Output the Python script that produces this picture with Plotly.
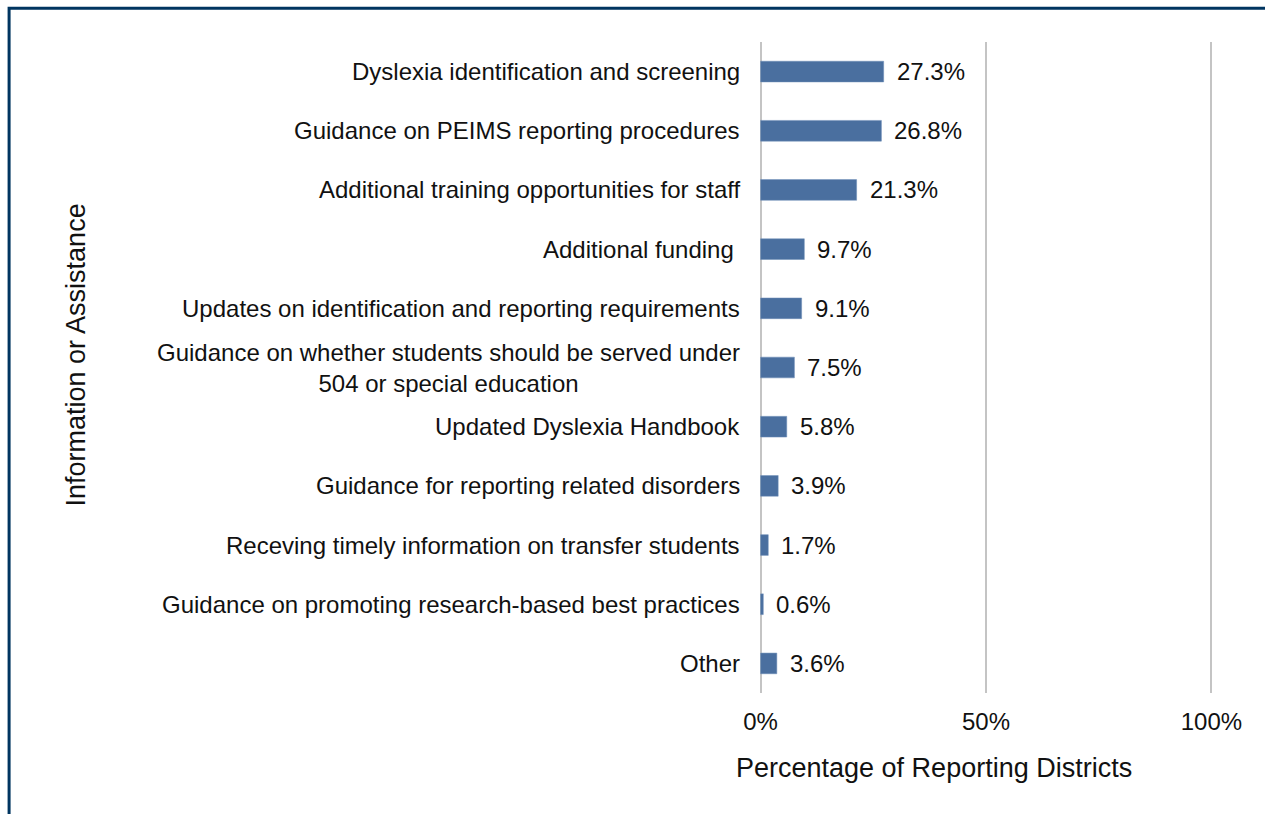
import plotly.graph_objects as go

# categories listed top to bottom, as in the chart
categories = [
    "Dyslexia identification and screening",
    "Guidance on PEIMS reporting procedures",
    "Additional training opportunities for staff",
    "Additional funding\u00a0",
    "Updates on identification and reporting requirements",
    "Guidance on whether students should be served under<br>504 or special education",
    "Updated Dyslexia Handbook",
    "Guidance for reporting related disorders",
    "Receving timely information on transfer students",
    "Guidance on promoting research-based best practices",
    "Other",
]
values = [27.3, 26.8, 21.3, 9.7, 9.1, 7.5, 5.8, 3.9, 1.7, 0.6, 3.6]
tick_vals = [0, 0.5, 1.0]
tick_text = ["0%", "50%", "100%"]

font = "Liberation Sans, Arial, sans-serif"
bar_color = "#4a6f9f"
grid_color = "#c4c4c4"
txt_color = "#111111"

shares = [v / 100 for v in values]
y_keys = list(range(len(categories)))

fig = go.Figure()
fig.add_trace(go.Bar(
    x=shares,
    y=y_keys,
    orientation="h",
    width=0.35,
    marker=dict(color=bar_color, line=dict(color="#6f8fb8", width=0.5)),
    hoverinfo="skip",
))

# category labels (centred for the two-line one)
for k, name in zip(y_keys, categories):
    fig.add_annotation(
        x=0, y=k, xref="x", yref="y",
        text=name, showarrow=False,
        xanchor="right", yanchor="middle", align="center",
        xshift=-19,
        font=dict(family=font, size=24, color=txt_color),
    )

# data labels
for k, s, v in zip(y_keys, shares, values):
    fig.add_annotation(
        x=s, y=k, xref="x", yref="y",
        text=f"{v:.1f}%", showarrow=False,
        xanchor="left", yanchor="middle",
        xshift=11,
        font=dict(family=font, size=24, color=txt_color),
    )

# axis titles
fig.add_annotation(
    x=0, y=0, xref="paper", yref="paper",
    text="Percentage of Reporting Districts", showarrow=False,
    xanchor="left", yanchor="middle", xshift=-23, yshift=-75,
    font=dict(family=font, size=27, color=txt_color),
)
fig.add_annotation(
    x=0, y=0.5, xref="paper", yref="paper",
    text="Information or Assistance", showarrow=False,
    textangle=-90, xanchor="center", yanchor="middle",
    xshift=-682, yshift=12,
    font=dict(family=font, size=27, color=txt_color),
)

# outer frame of the chart area
fig.add_shape(
    type="rect", xref="paper", yref="paper",
    x0=-1.633, x1=1.3, y0=-0.3, y1=1.052,
    line=dict(color="#003560", width=3),
    fillcolor="rgba(0,0,0,0)", layer="above",
)

fig.update_xaxes(
    range=[-0.008, 1.008],
    tickvals=tick_vals, ticktext=tick_text,
    showgrid=True, gridcolor=grid_color, gridwidth=2,
    zeroline=False, showline=False, ticks="",
    ticklabelstandoff=12,
    tickfont=dict(family=font, size=24, color=txt_color),
)
fig.update_yaxes(
    range=[len(categories) - 0.5, -0.5],
    showticklabels=False, showgrid=False, zeroline=False,
)

fig.update_layout(
    width=1265, height=814,
    margin=dict(l=757, r=50, t=42, b=121),
    paper_bgcolor="white", plot_bgcolor="white",
    showlegend=False,
)

fig.write_html(
    "out.html",
    config={"displayModeBar": False},
    post_script="document.body.style.margin='0px';document.body.style.overflow='hidden';",
)
